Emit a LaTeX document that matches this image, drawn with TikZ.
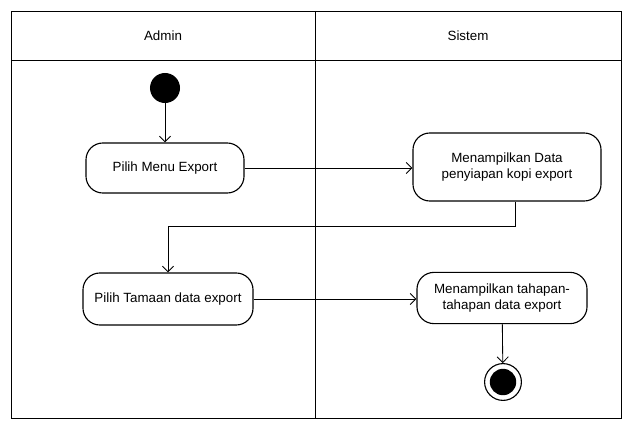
\documentclass[tikz,border=0pt]{standalone}
\usepackage{fontspec}
\setmainfont{Liberation Sans}
\usepackage{tikz}
\usetikzlibrary{arrows,arrows.meta}
\usetikzlibrary{positioning}
\tikzset{
  action/.style = {draw, rounded corners=12pt, thick, align=center, fill=white, font=\fontsize{9.5}{12}\selectfont, inner sep=2pt},
  flow/.style = {-{Straight Barb[length=4pt,width=8pt]}, semithick}
}

\begin{document}
\begin{tikzpicture}[x=0.025cm, y=-0.025cm]
\useasboundingbox (0,0) rectangle (623,420);

% -- swimlanes
\draw[semithick] (11,11) rectangle (621,418);
\draw[semithick] (11,60) -- (621,60);
\draw[semithick] (315,11) -- (315,418);
\draw (163,36) node[font=\fontsize{9.5}{12}\selectfont] (admin) {Admin};
\draw (468,36) node[font=\fontsize{9.5}{12}\selectfont] (sistem) {Sistem};

  % First, define nodes
% -- Admin
  \draw (165,88) node[circle, inner sep=0pt, fill=black, minimum size=0.75cm] (start) {};
  \draw (165,168) node[action, minimum width=3.95cm, minimum height=1.25cm] (menu) {Pilih Menu Export};
  \draw (168,299) node[action, minimum width=4.25cm, minimum height=1.3cm] (tampil) {Pilih Tamaan data export};

% -- Sistem
  \draw (507,167) node[action, minimum width=4.7cm, minimum height=1.7cm] (data) {Menampilkan Data\\penyiapan kopi export};
  \draw (502,298) node[action, minimum width=4.25cm, minimum height=1.28cm] (tahap) {Menampilkan tahapan-\\tahapan data export};
  \draw (503,382) node[circle, draw, thick, inner sep=0pt, minimum size=0.92cm] (stop) {};
  \fill (stop.center) circle (0.33cm);

% -- flows
  \draw[flow] (start) -- (menu);
  \draw[flow] (menu) -- (menu -| data.west);
  \draw[flow] (data.south -| 515,0) |- (168,226) -- (tampil.north);
  \draw[flow] (tampil) -- (tampil -| tahap.west);
  \draw[flow] (tahap) -- (stop);

\end{tikzpicture}
\end{document}
